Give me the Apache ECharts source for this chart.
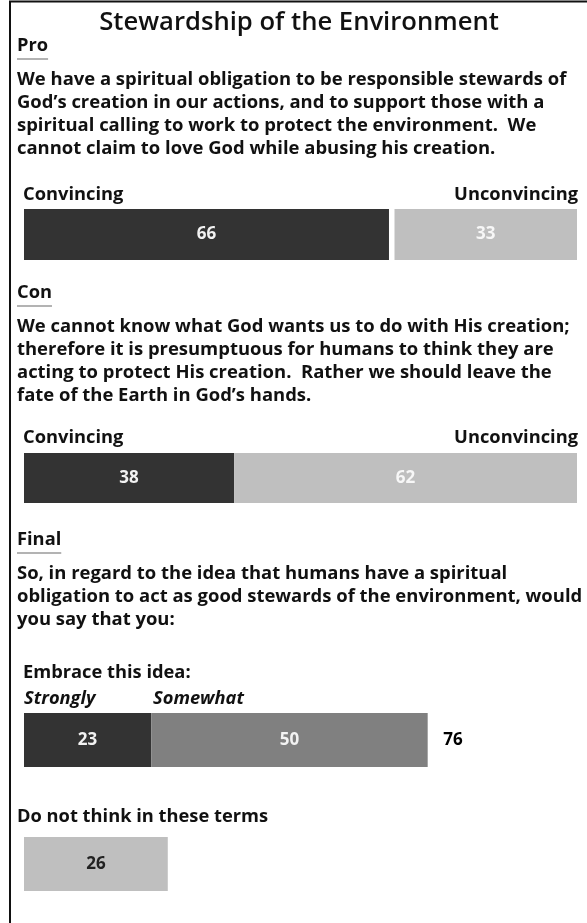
<!DOCTYPE html>
<html><head><meta charset="utf-8">
<script src="https://cdn.jsdelivr.net/npm/echarts@6/dist/echarts.min.js"></script>
<style>html,body{margin:0;padding:0;background:#fff}#c{width:587px;height:923px}</style>
</head><body><div id="c"></div>
<script>
const titleText = 'Stewardship of the Environment';
const sectionNames = ['Pro', 'Con', 'Final'];
const proText = [
  'We have a spiritual obligation to be responsible stewards of',
  'God\u2019s creation in our actions, and to support those with a',
  'spiritual calling to work to protect the environment.  We',
  'cannot claim to love God while abusing his creation.'
];
const conText = [
  'We cannot know what God wants us to do with His creation;',
  'therefore it is presumptuous for humans to think they are',
  'acting to protect His creation.  Rather we should leave the',
  'fate of the Earth in God\u2019s hands.'
];
const finalText = [
  'So, in regard to the idea that humans have a spiritual',
  'obligation to act as good stewards of the environment, would',
  'you say that you:'
];
const sideLabels = ['Convincing', 'Unconvincing'];
const embraceHeading = 'Embrace this idea:';
const embraceLabels = ['Strongly', 'Somewhat'];
const notThinkHeading = 'Do not think in these terms';
const proValues = [66, 33];
const conValues = [38, 62];
const embraceValues = [23, 50];
const embraceTotal = 76;
const notThinkValue = 26;

const FAM = '"Open Sans", Lato, sans-serif';
const DARK = '#333333', LIGHT = '#bfbfbf', MID = '#808080';
const chart = echarts.init(document.getElementById('c'), null, {renderer: 'canvas'});

const ctx = document.createElement('canvas').getContext('2d');
function tw(t, f) { ctx.font = f; return ctx.measureText(t).width; }
function fit(t, weight, target) { return 20 * target / tw(t, weight + ' 20px ' + FAM); }

const titleSize = fit(titleText, 600, 400);
const paraSize = fit(proText[0], 700, 550);
const labelSize = fit(sideLabels[1], 700, 124);
const TFONT = '600 ' + titleSize.toFixed(2) + 'px ' + FAM;
const PFONT = '700 ' + paraSize.toFixed(2) + 'px ' + FAM;
const HFONT = '700 ' + labelSize.toFixed(2) + 'px ' + FAM;
const IFONT = 'italic 700 ' + labelSize.toFixed(2) + 'px ' + FAM;

const gridTops = [209, 453, 713, 837];
const gridHeights = [51, 50, 54, 54];
const grids = gridTops.map((t, i) => ({left: 24, right: 10, top: t, height: gridHeights[i]}));
const xAxes = grids.map((g, i) => ({type: 'value', gridIndex: i, min: 0, max: 100, show: false}));
const yAxes = grids.map((g, i) => ({type: 'category', gridIndex: i, data: ['v'], show: false}));

function lbl(color) {
  return {show: true, position: 'inside', color: color, fontFamily: FAM, fontWeight: 'bold', fontSize: 17};
}
function bar(name, gi, stack, val, color, labelColor) {
  return {type: 'bar', name: name, xAxisIndex: gi, yAxisIndex: gi, stack: stack, data: [val],
    barWidth: '100%', itemStyle: {color: color}, label: labelColor ? lbl(labelColor) : {show: false},
    silent: !labelColor, emphasis: {disabled: true}};
}

const series = [
  bar('Convincing', 0, 'p', proValues[0], DARK, '#f2f2f2'),
  bar('gap', 0, 'p', 100 - proValues[0] - proValues[1], 'rgba(0,0,0,0)', null),
  bar('Unconvincing', 0, 'p', proValues[1], LIGHT, '#f7f7f7'),
  bar('Convincing', 1, 'c', conValues[0], DARK, '#f2f2f2'),
  bar('Unconvincing', 1, 'c', conValues[1], LIGHT, '#f7f7f7'),
  bar('Strongly', 2, 'e', embraceValues[0], DARK, '#f2f2f2'),
  bar('Somewhat', 2, 'e', embraceValues[1], MID, '#f2f2f2'),
  {type: 'scatter', xAxisIndex: 2, yAxisIndex: 2, symbolSize: 1,
    itemStyle: {color: 'rgba(0,0,0,0)', opacity: 1},
    data: [[embraceValues[0] + embraceValues[1], 0]],
    label: {show: true, position: 'right', distance: 15, formatter: String(embraceTotal),
      color: '#000000', opacity: 1, textBorderWidth: 0, fontFamily: FAM, fontWeight: 'bold', fontSize: 17},
    silent: true, emphasis: {disabled: true}},
  bar('Do not think', 3, 'd', notThinkValue, LIGHT, '#222222')
];

const g = [];
function text(t, x, y, font, opts) {
  opts = opts || {};
  g.push({type: 'text', silent: true, style: Object.assign({text: t, x: x, y: y, font: font,
    fill: opts.fill || '#111', align: opts.align || 'left', verticalAlign: 'middle',
    textAlign: opts.align || 'left', textVerticalAlign: 'middle'})});
}
// frame
g.push({type: 'line', silent: true, shape: {x1: 9, y1: 1.5, x2: 587, y2: 1.5}, style: {stroke: '#111', lineWidth: 2}});
g.push({type: 'line', silent: true, shape: {x1: 10, y1: 1, x2: 10, y2: 923}, style: {stroke: '#111', lineWidth: 2}});
// title
text(titleText, 299, 23, TFONT, {align: 'center'});
const secY = [46, 293, 540];
sectionNames.forEach((s, i) => {
  text(s, 17, secY[i], HFONT);
  const w = tw(s, HFONT);
  g.push({type: 'line', silent: true, shape: {x1: 17, y1: secY[i] + 13, x2: 17 + w, y2: secY[i] + 13},
    style: {stroke: '#9a9a9a', lineWidth: 1.5}});
});
const paras = [proText, conText, finalText];
paras.forEach((p, i) => {
  p.forEach((line, j) => text(line, 17, secY[i] + 34 + j * 23, PFONT));
});
// side labels
[195, 438].forEach(y => {
  text(sideLabels[0], 23, y, HFONT);
  text(sideLabels[1], 578, y, HFONT, {align: 'right'});
});
text(embraceHeading, 23, 673, HFONT);
text(embraceLabels[0], 24, 699, IFONT);
text(embraceLabels[1], 153, 699, IFONT);
text(notThinkHeading, 17, 817, HFONT);

chart.setOption({
  animation: false,
  backgroundColor: '#ffffff',
  grid: grids, xAxis: xAxes, yAxis: yAxes, series: series, graphic: g
});
</script></body></html>
